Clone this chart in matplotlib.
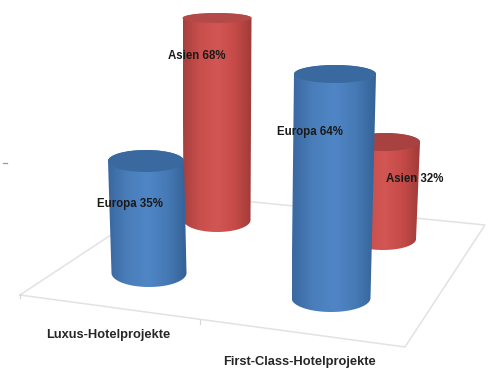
import numpy as np
import matplotlib
matplotlib.use("Agg")
import matplotlib.pyplot as plt
from matplotlib.colors import LinearSegmentedColormap
from matplotlib.path import Path
from matplotlib.patches import PathPatch, Ellipse

regions = ["Europa", "Asien", "Europa", "Asien"]
shares = [35, 68, 64, 32]
projects = ["Luxus-Hotelprojekte", "First-Class-Hotelprojekte"]

W, H = 492, 370
FONT = "Liberation Sans"

blue_side = LinearSegmentedColormap.from_list("b", ["#3a689f", "#4a7ebb", "#4f86c6", "#467ab6", "#346196"])
red_side = LinearSegmentedColormap.from_list("r", ["#a8403e", "#c94f4c", "#d25754", "#c64b48", "#a03a38"])
BLUE_TOP = "#3a699f"
RED_TOP = "#a84240"


def cylinder(ax, value, base, top_x, half_top, half_base, b_top, b_base, scale, cmap, lid, z):
    # the bar height comes from the value, the scale shrinks with floor depth
    base_x, base_y = base
    top_y = base_y - value * scale
    t = np.linspace(0, np.pi, 60)
    bottom_x = base_x + half_base * np.cos(t)
    bottom_y = base_y + b_base * np.sin(t)
    upper_x = top_x - half_top * np.cos(t)
    upper_y = top_y - b_top * np.sin(t)
    verts = np.column_stack([np.r_[bottom_x, upper_x], np.r_[bottom_y, upper_y]])
    outline = Path(np.vstack([verts, verts[0]]), closed=True)
    grad = np.linspace(0, 1, 256).reshape(1, -1)
    x0 = min(top_x - half_top, base_x - half_base)
    x1 = max(top_x + half_top, base_x + half_base)
    im = ax.imshow(grad, cmap=cmap, extent=(x0, x1, base_y + b_base, top_y - b_top),
                   aspect="auto", zorder=z, interpolation="bilinear")
    patch = PathPatch(outline, transform=ax.transData, fc="none", ec="none")
    ax.add_patch(patch)
    im.set_clip_path(patch)
    ax.add_patch(Ellipse((top_x, top_y), 2 * half_top, 2 * b_top, fc=lid, ec="none", zorder=z + 0.1))


fig = plt.figure(figsize=(W / 100, H / 100), dpi=100)
ax = fig.add_axes([0, 0, 1, 1])

# floor of the 3d box
floor_x = [20, 173, 485, 405, 20]
floor_y = [295, 194, 225, 347, 295]
ax.plot(floor_x, floor_y, color="#e2e2e2", lw=1.1, zorder=1)
for tx, ty in [(20, 295), (200, 321)]:
    ax.plot([tx, tx], [ty - 1.5, ty + 2.5], color="#d6d6d6", lw=0.8, zorder=1)
ax.plot([3, 7], [163, 163], color="#9a9a9a", lw=0.9, zorder=1)

# back row first so the front cylinders overlap it
cylinder(ax, shares[1], (217, 220), 217, 34.5, 33.5, 5, 12, 2.97, red_side, "#b34a47", 2)
cylinder(ax, shares[3], (383, 239), 385, 35, 33, 9, 11, 3.03, red_side, RED_TOP, 3)
cylinder(ax, shares[0], (149, 273), 146, 38, 37.5, 11, 14, 3.2, blue_side, BLUE_TOP, 4)
cylinder(ax, shares[2], (331, 298), 335, 41, 39.5, 9, 14, 3.5, blue_side, BLUE_TOP, 5)

label_pos = [(130, 204), (197, 56), (310, 132), (415, 179)]
for region, share, (lx, ly) in zip(regions, shares, label_pos):
    ax.text(lx, ly, f"{region} {share}%", ha="center", va="center", fontsize=8.3,
            fontweight="bold", family=FONT, color="#1a1a1a", zorder=10)

ax.text(108, 335, projects[0], ha="center", va="center", fontsize=9.3,
        fontweight="bold", family=FONT, color="#262626", zorder=10)
ax.text(300, 362, projects[1], ha="center", va="center", fontsize=9.3,
        fontweight="bold", family=FONT, color="#262626", zorder=10)

ax.set_xlim(0, W)
ax.set_ylim(H, 0)
ax.axis("off")
fig.savefig("out.png", dpi=100)
